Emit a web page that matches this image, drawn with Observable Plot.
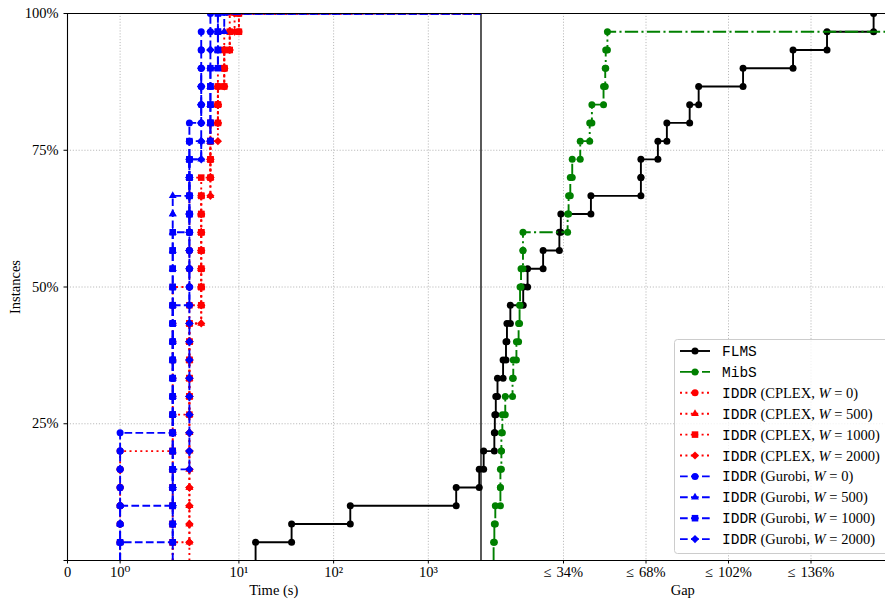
<!DOCTYPE html>
<html><head><meta charset="utf-8">
<script src="https://cdn.jsdelivr.net/npm/d3@7"></script>
<script src="https://cdn.jsdelivr.net/npm/@observablehq/plot@0.6"></script>
<style>
html,body{margin:0;padding:0;background:#fff;overflow:hidden;}
#chart{width:885px;height:603px;}
</style></head><body><div id="chart"></div>
<script>
// ---------------- data ----------------
const N = 30;                 // number of instances
const TIME_LIMIT = 3600;      // seconds
// FLMS: instances solved within the time limit (s), then final gaps (%) of unsolved ones
const flmsTimes = [15, 36, 150, 1970, 3450];
const flmsGaps = [1.1, 5.5, 5.7, 6.1, 6.8, 9.1, 10.3, 10.7, 12.1, 17.4, 19.2, 25.6, 32.3, 32.9, 45.3,
                  65.9, 65.9, 72.9, 76.6, 86.0, 89.7, 108.0, 128.6, 142.6, 161.8];
// MibS: no instance solved; 29 final gaps, one instance without gap
const mibsTimes = [];
const mibsGaps = [5.2, 5.5, 5.9, 8.0, 8.0, 8.4, 8.4, 8.8, 10.0, 13.0, 13.3, 14.6, 15.5, 15.9, 16.1,
                  16.5, 17.3, 17.3, 35.7, 36.1, 36.8, 37.6, 40.9, 44.8, 45.7, 50.5, 51.2, 51.4, 52.1];
// IDDR run times (s), all 30 solved
const cplexW0    = [1,1,1,1,1,1, 2,2,2,2,2,2,2,2,2, 3,3,3,3,3,3, 5,5,5, 6,6, 7,7, 8, 10];
const cplexW500  = [2, 3,3,3,3,3,3,3,3,3,3,3,3, 4,4,4,4,4,4,4, 5,5,5,5, 6,6,6, 7,7, 8];
const cplexW1000 = [2,2,2,2,2,2,2,2, 3,3,3,3,3,3, 4,4,4,4,4,4,4, 5,5,5, 6,6, 7,7, 8, 10];
const cplexW2000 = [3,3,3,3,3,3,3,3,3,3,3,3,3, 4,4,4,4,4,4,4, 5,5,5, 6,6,6, 7,7, 8, 9];
const gurobiW0    = [1,1,1,1,1,1,1, 2,2,2,2,2,2,2, 3,3,3,3,3,3,3,3,3,3, 4,4,4,4,4, 5];
const gurobiW500  = [1,1,1, 2,2,2,2,2,2,2,2,2,2,2,2,2,2,2,2,2, 3,3, 4, 5,5,5,5, 6,6, 7];
const gurobiW1000 = [1, 2,2,2,2,2,2,2,2,2,2,2,2,2,2,2,2,2, 3,3,3,3,3, 5,5,5,5, 6,6,6];
const gurobiW2000 = [2,2,2,2,2, 3,3,3,3,3,3,3,3,3,3,3,3,3,3,3,3,3, 4,4,4,4,4, 5,5, 6];

const timeTicks = [0, 1, 10, 100, 1000];
const timeTickLabels = ["0", "10\u2070", "10\u00b9", "10\u00b2", "10\u00b3"];
const gapTicks = [34, 68, 102, 136];
const gapTickLabels = ["\u2264\u200434%", "\u2264\u200468%", "\u2264\u2004102%", "\u2264\u2004136%"];
const yTicks = [0, 0.25, 0.5, 0.75, 1];
const yTickLabels = ["", "25%", "50%", "75%", "100%"];
const gapAxisEnd = 166.7;     // % gap at the right edge of the axes

// ---------------- scales (matplotlib-like symlog for time, linear for gap) ----------------
const LINTHRESH = 2, LADJ = 1 / (1 - 1 / 10);
const T = t => t <= LINTHRESH ? (t / LINTHRESH) * LADJ : LADJ + Math.log10(t / LINTHRESH);
const uLimit = T(TIME_LIMIT);
const GAP_PER_U = 34 / 0.8712;
const G = g => uLimit + g / GAP_PER_U;
const uMax = G(gapAxisEnd);

const series = [
  {solver: null, name: "FLMS", times: flmsTimes, gaps: flmsGaps, color: "#000000", dash: null, symbol: "circle", extend: null},
  {solver: null, name: "MibS", times: mibsTimes, gaps: mibsGaps, color: "#008000", dash: "13.3,3.3,2.1,3.3", symbol: "circle", extend: uMax + 1},
  {solver: "CPLEX", w: 0, times: cplexW0, gaps: [], color: "#ff0000", dash: "2,3.4", symbol: "circle", extend: uLimit},
  {solver: "CPLEX", w: 500, times: cplexW500, gaps: [], color: "#ff0000", dash: "2,3.4", symbol: "triangle", extend: uLimit},
  {solver: "CPLEX", w: 1000, times: cplexW1000, gaps: [], color: "#ff0000", dash: "2,3.4", symbol: "square", extend: uLimit},
  {solver: "CPLEX", w: 2000, times: cplexW2000, gaps: [], color: "#ff0000", dash: "2,3.4", symbol: "diamond2", extend: uLimit},
  {solver: "Gurobi", w: 0, times: gurobiW0, gaps: [], color: "#0000ff", dash: "7.7,3.3", symbol: "circle", extend: uLimit},
  {solver: "Gurobi", w: 500, times: gurobiW500, gaps: [], color: "#0000ff", dash: "7.7,3.3", symbol: "triangle", extend: uLimit},
  {solver: "Gurobi", w: 1000, times: gurobiW1000, gaps: [], color: "#0000ff", dash: "7.7,3.3", symbol: "square", extend: uLimit},
  {solver: "Gurobi", w: 2000, times: gurobiW2000, gaps: [], color: "#0000ff", dash: "7.7,3.3", symbol: "diamond2", extend: uLimit}
];
// marker radius per symbol (equal-area radius, matplotlib-like proportions)
const symbolR = {circle: 3.5, square: 3.7, diamond2: 3.7, triangle: 2.9};

function stepPoints(s) {
  const us = [...s.times.map(T), ...s.gaps.map(G)];
  const pts = [{u: us[0], y: 0, m: false}];
  us.forEach((u, i) => {
    pts.push({u, y: (i + 1) / N, m: true});
    if (i + 1 < us.length) pts.push({u: us[i + 1], y: (i + 1) / N, m: true});
  });
  if (s.extend != null) pts.push({u: s.extend, y: us.length / N, m: false});
  return pts;
}

const marks = [];
const xTickPos = [...timeTicks.map(T), ...gapTicks.map(G)];
const xTickLab = [...timeTickLabels, ...gapTickLabels];
const xLabelMap = new Map(xTickPos.map((p, i) => [p, xTickLab[i]]));
const yLabelMap = new Map(yTicks.map((p, i) => [p, yTickLabels[i]]));

const gridStyle = {stroke: "#b0b0b0", strokeWidth: 0.9, strokeDasharray: "1.1,1.8"};
marks.push(Plot.ruleY(yTicks.filter(d => d > 0 && d < 1), gridStyle));
marks.push(Plot.ruleX(xTickPos.filter(d => d > 0), gridStyle));
marks.push(Plot.ruleX([uLimit], {stroke: "#000", strokeWidth: 1.3}));

for (const s of series) {
  const pts = stepPoints(s);
  marks.push(Plot.line(pts, {x: "u", y: "y", stroke: s.color, strokeWidth: 1.9,
    strokeDasharray: s.dash, strokeLinecap: "butt", strokeLinejoin: "miter", clip: true}));
  marks.push(Plot.dot(pts.filter(p => p.m), {x: "u", y: "y", fill: s.color, symbol: s.symbol, r: symbolR[s.symbol], clip: true}));
}

marks.push(Plot.ruleX([0], {stroke: "#000", strokeWidth: 1.1}));
marks.push(Plot.ruleY([0, 1], {stroke: "#000", strokeWidth: 1.1}));
marks.push(Plot.axisX(xTickPos, {tickFormat: d => xLabelMap.get(d), tickSize: 3.5, tickPadding: 3, fontSize: 14.5, label: null}));
marks.push(Plot.axisY(yTicks, {tickFormat: d => yLabelMap.get(d), tickSize: 3.5, tickPadding: 5.5, fontSize: 14.5, label: null}));

const chart = Plot.plot({
  width: 885, height: 603,
  marginLeft: 67, marginRight: 0, marginTop: 13, marginBottom: 43,
  style: {fontFamily: "'Liberation Serif', 'DejaVu Serif', serif", fontSize: "14px", background: "#fff", color: "#000"},
  x: {type: "linear", domain: [0, uMax]},
  y: {type: "linear", domain: [0, 1]},
  marks
});
document.getElementById("chart").appendChild(chart);

// ---------------- axis titles & legend ----------------
const svg = d3.select(chart);
const serif = "'Liberation Serif', 'DejaVu Serif', serif";
const mono = "'Liberation Mono', 'DejaVu Sans Mono', monospace";
const xPx = chart.scale("x").apply;
svg.append("text").attr("x", (xPx(0) + xPx(uLimit)) / 2).attr("y", 595).attr("text-anchor", "middle")
  .attr("font-family", serif).attr("font-size", 14.5).attr("fill", "#000").text("Time (s)");
svg.append("text").attr("x", (xPx(uLimit) + 885) / 2).attr("y", 595).attr("text-anchor", "middle")
  .attr("font-family", serif).attr("font-size", 14.5).attr("fill", "#000").text("Gap");
svg.append("text").attr("transform", "translate(20,287) rotate(-90)").attr("text-anchor", "middle")
  .attr("font-family", serif).attr("font-size", 14.5).attr("fill", "#000").text("Instances");

const symbolTypes = {circle: d3.symbolCircle, triangle: d3.symbolTriangle, square: d3.symbolSquare, diamond2: d3.symbolDiamond2};
const lg = svg.append("g").attr("text-anchor", "start");
lg.append("rect").attr("x", 674.5).attr("y", 339.5).attr("width", 240).attr("height", 214).attr("rx", 3)
  .attr("fill", "#fff").attr("fill-opacity", 0.8).attr("stroke", "#cccccc").attr("stroke-width", 1);
series.forEach((s, i) => {
  const y = 351 + i * 20.9;
  const r = symbolR[s.symbol];
  lg.append("line").attr("x1", 680).attr("x2", 710).attr("y1", y).attr("y2", y)
    .attr("stroke", s.color).attr("stroke-width", 1.9).attr("stroke-dasharray", s.dash).attr("stroke-linecap", "butt");
  lg.append("path").attr("d", d3.symbol(symbolTypes[s.symbol], Math.PI * r * r)()).attr("transform", `translate(695,${y})`).attr("fill", s.color);
  const t = lg.append("text").attr("x", 722).attr("y", y).attr("dy", "0.35em").attr("text-anchor", "start")
    .attr("font-size", 14.5).attr("fill", "#000").attr("font-family", serif);
  if (!s.solver) {
    t.append("tspan").attr("font-family", mono).text(s.name);
  } else {
    t.append("tspan").attr("font-family", mono).text("IDDR");
    t.append("tspan").text(` (${s.solver}, `);
    t.append("tspan").attr("font-style", "italic").text("W");
    t.append("tspan").text(` = ${s.w})`);
  }
});
</script></body></html>
